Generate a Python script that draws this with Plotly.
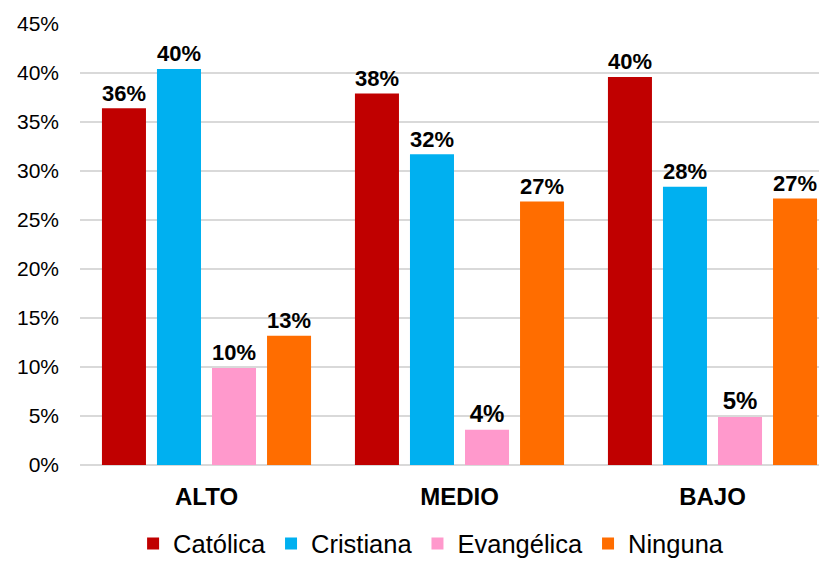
import plotly.graph_objects as go

categories = ["ALTO", "MEDIO", "BAJO"]
catolica = [0.364, 0.379, 0.396]
cristiana = [0.404, 0.317, 0.284]
evangelica = [0.099, 0.036, 0.049]
ninguna = [0.132, 0.269, 0.272]
tick_vals = [0, 0.05, 0.10, 0.15, 0.20, 0.25, 0.30, 0.35, 0.40, 0.45]

series = [
    ("Católica", catolica, "#C00000"),
    ("Cristiana", cristiana, "#00B0F0"),
    ("Evangélica", evangelica, "#FF99CC"),
    ("Ninguna", ninguna, "#FF6D00"),
]

FONT = "Liberation Sans, Arial, sans-serif"
fig = go.Figure()
for name, vals, col in series:
    fig.add_trace(go.Bar(
        name=name, x=categories, y=vals, marker_color=col,
        marker_line_width=0,
        texttemplate="%{y:.0%}", textposition="outside",
        textfont=dict(family=FONT, size=24, color="black", weight="bold"),
        cliponaxis=False,
    ))

# page body has an 8px offset; margins compensate
fig.update_layout(
    width=827, height=561,
    margin=dict(l=72, r=8, t=16, b=104, autoexpand=False),
    paper_bgcolor="white", plot_bgcolor="white",
    barmode="group", bargap=0.13, bargroupgap=0.2,
    font=dict(family=FONT, color="black"),
    legend=dict(orientation="h", x=0.47, xanchor="center", y=-0.179, yanchor="middle",
                font=dict(size=25.5, family=FONT), traceorder="normal", itemwidth=30),
)
fig.update_xaxes(range=[-0.5, 2.4526], showgrid=False, showline=False, automargin=False,
                 ticks="outside", ticklen=10, tickcolor="rgba(0,0,0,0)",
                 tickfont=dict(size=24, family=FONT, weight="bold"))
fig.update_yaxes(range=[0, 0.45], tickvals=tick_vals, tickformat=".0%", automargin=False,
                 showgrid=True, gridcolor="#D9D9D9", gridwidth=1.5,
                 zeroline=True, zerolinecolor="#D9D9D9", zerolinewidth=1.5,
                 showline=False, ticklabelstandoff=20,
                 tickfont=dict(size=21, family=FONT))
fig.write_html("out.html")
